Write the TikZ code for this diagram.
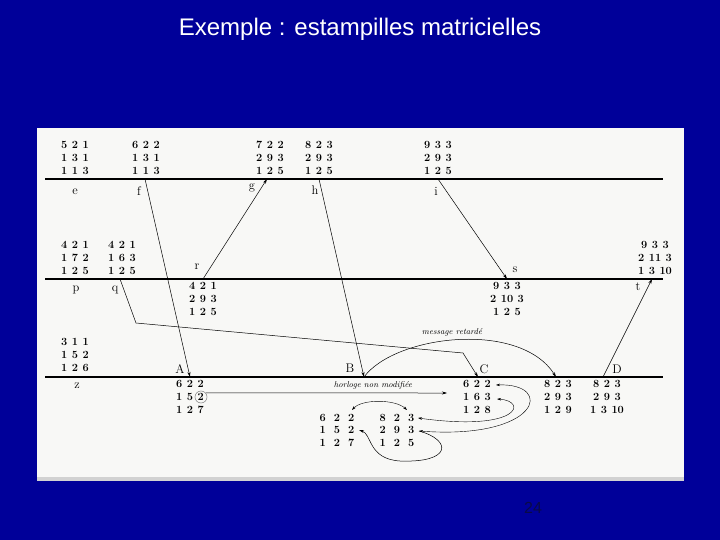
\documentclass[tikz,border=0pt]{standalone}
\usepackage{fontspec}
\newfontfamily\slidefont{Liberation Sans}
\usetikzlibrary{arrows.meta}
\definecolor{slideblue}{RGB}{0,0,153}
\definecolor{scanpaper}{RGB}{248,248,246}
\definecolor{pagenum}{RGB}{10,10,70}

\tikzset{
  clock/.style={inner sep=0pt, align=center,
    font={\fontsize{11}{13}\selectfont\bfseries\spaceskip=4.5pt\relax}},
  wideclock/.style={clock,
    font={\fontsize{11}{12.5}\selectfont\bfseries\spaceskip=8pt\relax}},
  ev/.style={inner sep=0pt, font=\fontsize{12.5}{14}\selectfont},
  note/.style={inner sep=0pt, font=\fontsize{8.5}{10}\selectfont\itshape},
  proc/.style={line width=1.1pt},
  msg/.style={line width=0.5pt, -{Stealth[length=5pt,width=3pt]}},
  cmp/.style={line width=0.4pt,
    {Stealth[length=4pt,width=2.5pt]}-{Stealth[length=4pt,width=2.5pt]}}
}

\begin{document}
\begin{tikzpicture}
\begin{scope}[x=1pt,y=-1pt]
\useasboundingbox (0,0) rectangle (720,540);
\fill[slideblue] (0,0) rectangle (720,540);
\fill[scanpaper] (37,128) rectangle (684,481);
\fill[gray!35] (37,477) rectangle (684,481);

% titre
\node[text=white, font={\slidefont\fontsize{24}{28}\selectfont}] (title) at (360,29)
  {Exemple : estampilles matricielles};
\node[text=pagenum, font={\slidefont\fontsize{16}{18}\selectfont}] (num) at (533,508) {24};

% processus
\foreach \y in {179,279,377}
  \draw[proc] (45,\y) -- (663,\y);

% evenements
\foreach \ev/\x/\y in {f/145/179, g/267/179, h/319/179, i/438/179,
    q/120/279, r/203/279, s/507/279, t/652/279,
    A/190/377, B/364/377, C/478/377, C2/556/377, D/603/377}
  \coordinate (\ev) at (\x,\y);

\foreach \nm/\x/\y in {e/75/192, f/139/191, g/252/188, h/315/190, i/436/191,
    p/76/290, q/115/290, r/197/267, s/515/270, t/638/287,
    z/77/386, A/180/369, B/350/368, C/484/369, D/617/369}
  \node[ev] (l\nm) at (\x,\y) {\nm};

% estampilles
\foreach \nm/\x/\y/\txt in {
    e/75/158/{5 2 1\\1 3 1\\1 1 3},
    f/146/158/{6 2 2\\1 3 1\\1 1 3},
    g/270/158/{7 2 2\\2 9 3\\1 2 5},
    h/319/158/{8 2 3\\2 9 3\\1 2 5},
    i/438/158/{9 3 3\\2 9 3\\1 2 5},
    p/75/258/{4 2 1\\1 7 2\\1 2 5},
    q/122/258/{4 2 1\\1 6 3\\1 2 5},
    t/655/258/{9 3 3\\2 11 3\\1 3 10},
    r/203/299/{4 2 1\\2 9 3\\1 2 5},
    s/507/299/{9 3 3\\2 10 3\\1 2 5},
    z/75/355/{3 1 1\\1 5 2\\1 2 6},
    A/190/397/{6 2 2\\1 5 2\\1 2 7},
    C/477/397/{6 2 2\\1 6 3\\1 2 8},
    C2/558/397/{8 2 3\\2 9 3\\1 2 9},
    D/607/397/{8 2 3\\2 9 3\\1 3 10}}
  \node[clock] (m\nm) at (\x,\y) {\txt};

\node[circle, draw=gray, line width=0.5pt, minimum size=12pt, inner sep=0pt] (rond) at (201,397) {};

% messages
\coordinate (qa) at (136,323);
\coordinate (qb) at (463,353);
\draw[msg] (f) -- (A);
\draw[msg] (r) -- (g);
\draw[msg] (h) -- (B);
\draw[msg] (i) -- (s);
\draw[msg] (D) -- (t);
\draw[msg] (q) -- (qa) -- (qb) -- (C);

% message retarde
\draw[msg] (B) .. controls (395,335) and (520,320) .. (C2);
\node[note] (retard) at (452,332) {message retardé};

% horloge
\coordinate (hfin) at (447,393);
\draw[msg] (rond.40) -- (hfin);
\node[note] (horloge) at (373,385) {horloge non modifiée};

% comparaisons
\node[wideclock] (L1) at (337,430) {6 2 2\\1 5 2\\1 2 7};
\node[wideclock] (L2) at (397,430) {8 2 3\\2 9 3\\1 2 5};
\coordinate (c1) at (496,385);
\coordinate (c2) at (497,399);
\coordinate (k1) at (418,418);
\coordinate (k2) at (419,431);
\coordinate (k3) at (359,430);
\draw[cmp] (352,410) .. controls (362,399) and (395,399) .. (407,410);
\draw[cmp] (c1) .. controls (555,383) and (540,440) .. (k2);
\draw[cmp] (c2) .. controls (528,401) and (520,432) .. (k1);
\draw[msg] (k2) .. controls (452,440) and (452,463) .. (400,461)
  .. controls (368,459) and (372,434) .. (k3);
\end{scope}
\end{tikzpicture}
\end{document}
